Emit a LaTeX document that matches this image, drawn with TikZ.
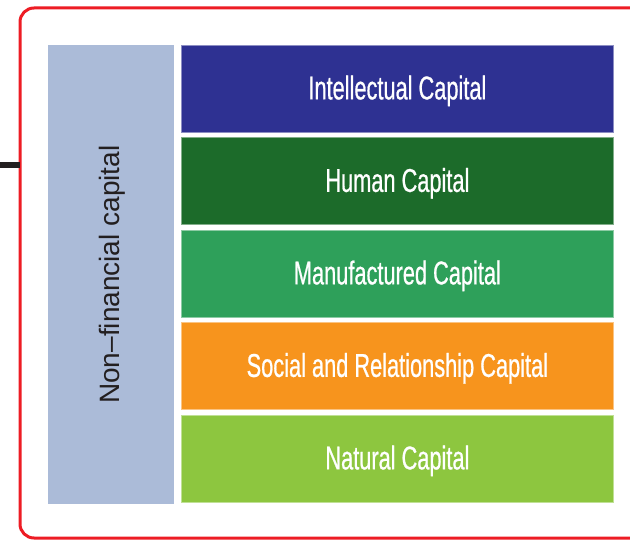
\documentclass[tikz,border=0pt]{standalone}
\usepackage{fontspec}
\setmainfont{Liberation Sans}
\newfontfamily\condfont{Liberation Sans}[FakeStretch=0.66,FakeBold=0.6]
\definecolor{frame}{HTML}{ED1C24}
\definecolor{sidebar}{HTML}{ABBBD8}
\definecolor{intcap}{HTML}{2E3192}
\definecolor{humcap}{HTML}{1C6B2A}
\definecolor{mancap}{HTML}{2EA05A}
\definecolor{soccap}{HTML}{F7941D}
\definecolor{natcap}{HTML}{8DC63F}
\definecolor{labeltext}{HTML}{231F20}
\tikzset{
  capbox/.style={draw=#1!55!white, line width=0.8pt, fill=#1, minimum width=432pt,
    minimum height=87pt, inner sep=0pt, text=white,
    text height=26pt, text depth=5pt,
    font=\condfont\fontsize{33}{35}\selectfont},
  sidebox/.style={fill=sidebar, minimum width=126pt, minimum height=459pt,
    inner sep=0pt}
}
\begin{document}
\begin{tikzpicture}[x=1pt,y=-1pt]
  \useasboundingbox (0,0) rectangle (630,540);
  \clip (0,0) rectangle (630,540);
  % outer frame and its connector stub
  \draw[frame, line width=3pt, rounded corners=14pt] (20,8) rectangle (660,538);
  \coordinate (stub) at (0,165);
  \coordinate (frameleft) at (20,165);
  \draw[labeltext, line width=6pt] (stub) -- (frameleft);
  % side label
  \node[sidebox, anchor=north west] (side) at (48,45) {};
  \node[rotate=90, text=labeltext, font=\fontsize{28}{30}\selectfont] (sidelabel) at ([xshift=1pt]side.center) {Non--financial capital};
  % capital blocks
  \node[capbox=intcap, anchor=north west] (ic) at (181,45) {Intellectual Capital};
  \node[capbox=humcap, anchor=north west] (hc) at (181,137.5) {Human Capital};
  \node[capbox=mancap, anchor=north west] (mc) at (181,230) {Manufactured Capital};
  \node[capbox=soccap, anchor=north west] (sc) at (181,322.5) {Social and Relationship Capital};
  \node[capbox=natcap, anchor=north west] (nc) at (181,415) {Natural Capital};
\end{tikzpicture}
\end{document}
